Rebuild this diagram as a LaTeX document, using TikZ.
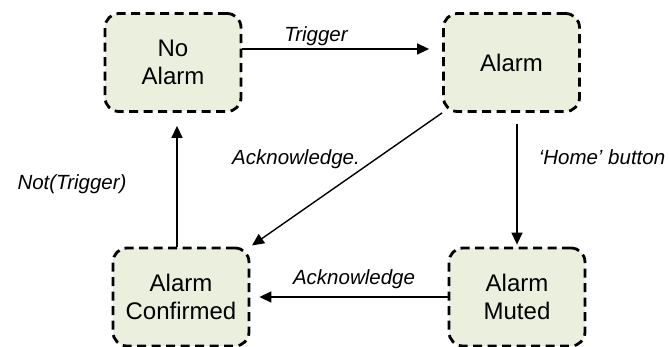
\documentclass[tikz,border=0pt]{standalone}
\usepackage{fontspec}
\setmainfont{Liberation Sans}
\usetikzlibrary{arrows.meta}
\definecolor{statefill}{RGB}{235,239,222}
\begin{document}
\begin{tikzpicture}[x=1pt,y=-1pt,
    state/.style={draw, fill=statefill, line width=2.8pt, dash pattern=on 9pt off 5.5pt,
      rounded corners=14pt, minimum width=136pt, minimum height=98pt, inner sep=0pt,
      align=center, font=\fontsize{24}{28}\selectfont},
    trans/.style={line width=1.4pt, -{Triangle[length=12pt,width=11pt]}},
    tlabel/.style={anchor=base, inner sep=0pt, font=\fontsize{20.5}{24}\selectfont\itshape}]
  \useasboundingbox (0,0) rectangle (670,347);
  % four states
  \node[state] (noalarm) at (173,62.5) {No\\Alarm};
  \node[state] (alarm) at (511.5,62.5) {Alarm};
  \node[state] (confirmed) at (181,297) {Alarm\\Confirmed};
  \node[state] (muted) at (517,297) {Alarm\\Muted};
  % transitions
  \draw[trans, shorten >=13pt] (noalarm.east |- 0,49) -- (alarm.west |- 0,49);
  \draw[trans, shorten <=11pt, shorten >=2pt] (alarm.south -| muted.north) -- (muted.north);
  \draw[trans, shorten >=13pt] ([xshift=-4pt]confirmed.north) -- ([xshift=4pt]noalarm.south);
  \draw[trans, shorten >=2pt] (alarm.south west) -- (confirmed.north east);
  \draw[trans, shorten >=9pt] (muted.west) -- (confirmed.east);
  % transition labels
  \node[tlabel] (ltrigger) at (316,42) {Trigger};
  \node[tlabel] (lhome) at (602,165) {‘Home’ button};
  \node[tlabel] (lack) at (296,165) {Acknowledge.};
  \node[tlabel] (lnot) at (72,190) {Not(Trigger)};
  \node[tlabel] (lackm) at (354,285) {Acknowledge};
\end{tikzpicture}
\end{document}
